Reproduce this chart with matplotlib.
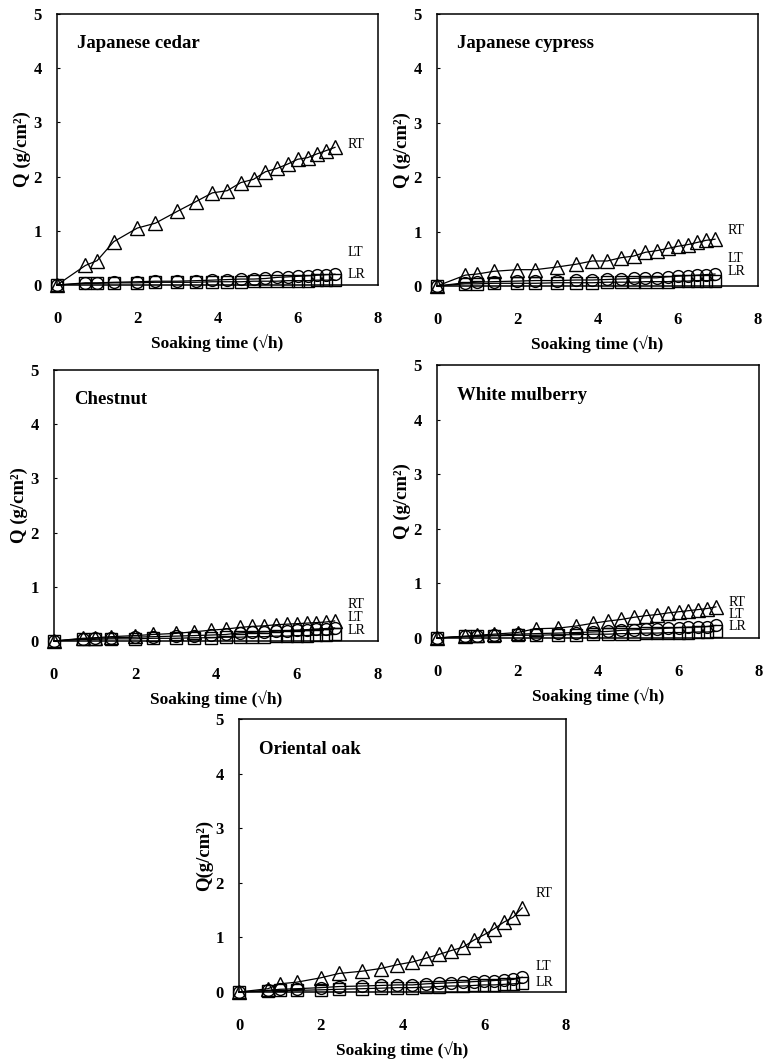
import matplotlib
matplotlib.use("Agg")
import matplotlib.pyplot as plt

plt.rcParams["font.family"] = ["Liberation Serif", "DejaVu Serif"]

# soaking time, sqrt(h): 0, 0.5, 1, 2, 4, 6, 9, ... 48 h
soak_hours = [0, 0.5, 1, 2, 4, 6, 9, 12, 15, 18, 21, 24, 27, 30, 33, 36, 39, 42, 45, 48]
soak_time = [h ** 0.5 for h in soak_hours]

species = ["Japanese cedar", "Japanese cypress", "Chestnut", "White mulberry", "Oriental oak"]

cedar_rt = [0, 0.36, 0.45, 0.80, 1.05, 1.14, 1.36, 1.54, 1.70, 1.74, 1.89, 1.95, 2.09, 2.15, 2.23, 2.32, 2.35, 2.42, 2.48, 2.54]
cedar_lt = [0, 0.04, 0.04, 0.05, 0.06, 0.07, 0.07, 0.08, 0.09, 0.10, 0.11, 0.11, 0.12, 0.14, 0.15, 0.16, 0.17, 0.18, 0.19, 0.20]
cedar_lr = [0, 0.03, 0.03, 0.04, 0.04, 0.05, 0.05, 0.05, 0.06, 0.06, 0.06, 0.07, 0.07, 0.07, 0.08, 0.08, 0.08, 0.09, 0.09, 0.09]

cypress_rt = [0, 0.20, 0.22, 0.27, 0.30, 0.30, 0.35, 0.40, 0.46, 0.46, 0.52, 0.55, 0.62, 0.65, 0.69, 0.73, 0.76, 0.80, 0.84, 0.86]
cypress_lt = [0, 0.06, 0.07, 0.08, 0.09, 0.10, 0.10, 0.11, 0.11, 0.12, 0.13, 0.14, 0.15, 0.15, 0.17, 0.18, 0.19, 0.20, 0.21, 0.22]
cypress_lr = [0, 0.04, 0.04, 0.05, 0.05, 0.05, 0.06, 0.06, 0.06, 0.07, 0.07, 0.07, 0.08, 0.08, 0.08, 0.09, 0.09, 0.10, 0.10, 0.10]

chestnut_rt = [0, 0.05, 0.06, 0.08, 0.10, 0.12, 0.14, 0.17, 0.20, 0.22, 0.25, 0.27, 0.28, 0.30, 0.31, 0.32, 0.33, 0.34, 0.35, 0.37]
chestnut_lt = [0, 0.04, 0.05, 0.06, 0.07, 0.08, 0.09, 0.10, 0.11, 0.12, 0.15, 0.16, 0.17, 0.18, 0.19, 0.20, 0.21, 0.22, 0.23, 0.24]
chestnut_lr = [0, 0.03, 0.03, 0.04, 0.04, 0.05, 0.05, 0.06, 0.06, 0.07, 0.07, 0.08, 0.08, 0.09, 0.09, 0.10, 0.10, 0.11, 0.11, 0.12]

mulberry_rt = [0, 0.03, 0.05, 0.07, 0.10, 0.17, 0.18, 0.22, 0.27, 0.31, 0.34, 0.38, 0.41, 0.43, 0.46, 0.48, 0.50, 0.52, 0.54, 0.57]
mulberry_lt = [0, 0.03, 0.04, 0.05, 0.07, 0.08, 0.09, 0.10, 0.11, 0.12, 0.14, 0.15, 0.16, 0.17, 0.18, 0.19, 0.20, 0.20, 0.21, 0.23]
mulberry_lr = [0, 0.03, 0.03, 0.04, 0.05, 0.05, 0.06, 0.06, 0.07, 0.07, 0.08, 0.08, 0.09, 0.09, 0.10, 0.10, 0.10, 0.11, 0.11, 0.12]

oak_rt = [0, 0.06, 0.15, 0.18, 0.26, 0.34, 0.38, 0.43, 0.50, 0.55, 0.62, 0.69, 0.76, 0.82, 0.95, 1.05, 1.16, 1.28, 1.37, 1.54]
oak_lt = [0, 0.03, 0.05, 0.06, 0.08, 0.10, 0.11, 0.12, 0.13, 0.13, 0.15, 0.16, 0.17, 0.18, 0.19, 0.20, 0.21, 0.22, 0.23, 0.27]
oak_lr = [0, 0.02, 0.03, 0.03, 0.04, 0.05, 0.06, 0.07, 0.08, 0.08, 0.09, 0.10, 0.11, 0.11, 0.12, 0.13, 0.13, 0.14, 0.15, 0.16]

series_rt = [cedar_rt, cypress_rt, chestnut_rt, mulberry_rt, oak_rt]
series_lt = [cedar_lt, cypress_lt, chestnut_lt, mulberry_lt, oak_lt]
series_lr = [cedar_lr, cypress_lr, chestnut_lr, mulberry_lr, oak_lr]

# where the RT / LT / LR tags sit (y, data units)
tag_y = [
    (2.6, 0.6, 0.2),
    (1.02, 0.5, 0.27),
    (0.67, 0.44, 0.2),
    (0.65, 0.43, 0.21),
    (1.8, 0.46, 0.18),
]
ylabels = ["Q (g/cm²)", "Q (g/cm²)", "Q (g/cm²)", "Q (g/cm²)", "Q(g/cm²)"]

W, H = 765, 1060
# panel boxes in pixels: left, top, right, bottom
boxes = [
    (57, 14, 378, 285),
    (437, 14, 758, 286),
    (54, 370, 378, 641),
    (437, 365, 759, 638),
    (239, 719, 566, 992),
]

fig = plt.figure(figsize=(W / 100, H / 100), dpi=100)

for i, name in enumerate(species):
    l, t, r, b = boxes[i]
    ax = fig.add_axes([l / W, 1 - b / H, (r - l) / W, (b - t) / H])

    ax.plot(soak_time, series_lr[i], color="black", lw=0.9, marker="s", ms=8,
            mfc="none", mec="black", mew=1.0, clip_on=False)
    ax.plot(soak_time, series_lt[i], color="black", lw=0.9, marker="o", ms=8.5,
            mfc="none", mec="black", mew=1.0, clip_on=False)
    ax.plot(soak_time, series_rt[i], color="black", lw=0.9, marker="^", ms=10,
            mfc="none", mec="black", mew=1.0, clip_on=False)

    ax.set_xlim(0, 8)
    ax.set_ylim(0, 5)
    ax.set_xticks([0, 2, 4, 6, 8])
    ax.set_yticks([0, 1, 2, 3, 4, 5])
    ax.tick_params(axis="x", length=0, pad=19, labelsize=12)
    ax.tick_params(axis="y", direction="in", length=2, width=0.8, pad=11, labelsize=12)
    for lab in ax.get_xticklabels() + ax.get_yticklabels():
        lab.set_fontweight("bold")
    for sp in ax.spines.values():
        sp.set_linewidth(1.1)

    ax.text(0.062, 0.89, name, transform=ax.transAxes, fontsize=13.5,
            fontweight="bold", ha="left", va="center")

    rt_y, lt_y, lr_y = tag_y[i]
    ax.text(7.25, rt_y, "RT", fontsize=10, ha="left", va="center")
    ax.text(7.25, lt_y, "LT", fontsize=10, ha="left", va="center")
    ax.text(7.25, lr_y, "LR", fontsize=10, ha="left", va="center")

    ax.set_ylabel(ylabels[i], fontsize=13.5, fontweight="bold")
    ax.yaxis.set_label_coords(-35 / (r - l), 0.5)
    ax.set_xlabel("Soaking time (√h)", fontsize=12.5, fontweight="bold")
    ax.xaxis.set_label_coords(0.5, -58 / (b - t))
    ax.xaxis.label.set_va("center")
    ax.yaxis.label.set_va("center")

plt.savefig("out.png", dpi=100)
plt.close()
